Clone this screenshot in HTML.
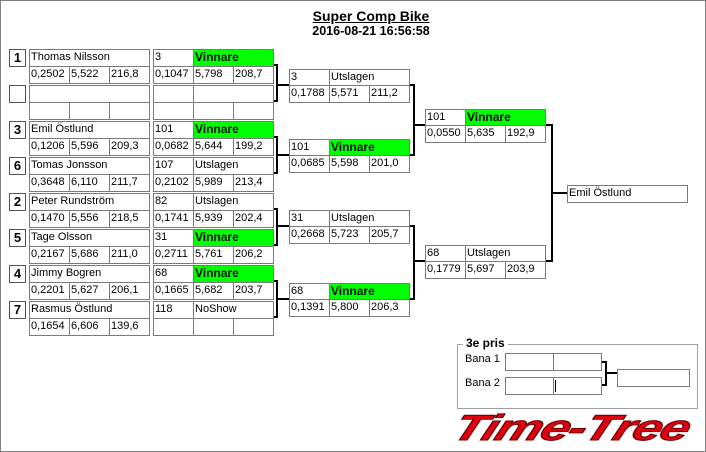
<!DOCTYPE html>
<html><head><meta charset="utf-8"><style>
body{margin:0;width:706px;height:452px;background:#fff;position:relative;overflow:hidden;font-family:"Liberation Sans",Arial,sans-serif;font-size:11px;color:#000}
.f{position:absolute;left:0;top:0;width:704px;height:450px;border:1px solid #808080}
.c{position:absolute;box-sizing:border-box;height:18px;border:1px solid #7a7a7a;background:#fff;padding-left:1px;line-height:15px;white-space:nowrap;overflow:hidden}
.s{font-weight:bold;font-size:13px;text-align:center;padding:0;border-color:#555}
.g{background:#00ff00;font-weight:bold;font-size:12px}
.l{position:absolute;background:#000}
</style></head><body>
<div class="f"></div>
<div style="position:absolute;left:0;width:742px;top:8px;text-align:center;font-weight:bold;font-size:14px;text-decoration:underline">Super Comp Bike</div>
<div style="position:absolute;left:0;width:742px;top:24px;text-align:center;font-weight:bold;font-size:12.5px">2016-08-21 16:56:58</div>

<div class="c s" style="left:9px;top:49px;width:17px">1</div>
<div class="c" style="left:29px;top:49px;width:121px">Thomas Nilsson</div>
<div class="c" style="left:29px;top:66px;width:41px">0,2502</div><div class="c" style="left:69px;top:66px;width:41px">5,522</div><div class="c" style="left:109px;top:66px;width:41px">216,8</div>

<div class="c s" style="left:9px;top:85px;width:17px"></div>
<div class="c" style="left:29px;top:85px;width:121px"></div>
<div class="c" style="left:29px;top:102px;width:41px"></div><div class="c" style="left:69px;top:102px;width:41px"></div><div class="c" style="left:109px;top:102px;width:41px"></div>

<div class="c s" style="left:9px;top:121px;width:17px">3</div>
<div class="c" style="left:29px;top:121px;width:121px">Emil Östlund</div>
<div class="c" style="left:29px;top:138px;width:41px">0,1206</div><div class="c" style="left:69px;top:138px;width:41px">5,596</div><div class="c" style="left:109px;top:138px;width:41px">209,3</div>

<div class="c s" style="left:9px;top:157px;width:17px">6</div>
<div class="c" style="left:29px;top:157px;width:121px">Tomas Jonsson</div>
<div class="c" style="left:29px;top:174px;width:41px">0,3648</div><div class="c" style="left:69px;top:174px;width:41px">6,110</div><div class="c" style="left:109px;top:174px;width:41px">211,7</div>

<div class="c s" style="left:9px;top:193px;width:17px">2</div>
<div class="c" style="left:29px;top:193px;width:121px">Peter Rundström</div>
<div class="c" style="left:29px;top:210px;width:41px">0,1470</div><div class="c" style="left:69px;top:210px;width:41px">5,556</div><div class="c" style="left:109px;top:210px;width:41px">218,5</div>

<div class="c s" style="left:9px;top:229px;width:17px">5</div>
<div class="c" style="left:29px;top:229px;width:121px">Tage Olsson</div>
<div class="c" style="left:29px;top:246px;width:41px">0,2167</div><div class="c" style="left:69px;top:246px;width:41px">5,686</div><div class="c" style="left:109px;top:246px;width:41px">211,0</div>

<div class="c s" style="left:9px;top:265px;width:17px">4</div>
<div class="c" style="left:29px;top:265px;width:121px">Jimmy Bogren</div>
<div class="c" style="left:29px;top:282px;width:41px">0,2201</div><div class="c" style="left:69px;top:282px;width:41px">5,627</div><div class="c" style="left:109px;top:282px;width:41px">206,1</div>

<div class="c s" style="left:9px;top:301px;width:17px">7</div>
<div class="c" style="left:29px;top:301px;width:121px">Rasmus Östlund</div>
<div class="c" style="left:29px;top:318px;width:41px">0,1654</div><div class="c" style="left:69px;top:318px;width:41px">6,606</div><div class="c" style="left:109px;top:318px;width:41px">139,6</div>

<div class="c" style="left:153px;top:49px;width:41px">3</div><div class="c g" style="left:193px;top:49px;width:81px">Vinnare</div>
<div class="c" style="left:153px;top:66px;width:41px">0,1047</div><div class="c" style="left:193px;top:66px;width:41px">5,798</div><div class="c" style="left:233px;top:66px;width:41px">208,7</div>

<div class="c" style="left:153px;top:85px;width:41px"></div><div class="c" style="left:193px;top:85px;width:81px"></div>
<div class="c" style="left:153px;top:102px;width:41px"></div><div class="c" style="left:193px;top:102px;width:41px"></div><div class="c" style="left:233px;top:102px;width:41px"></div>

<div class="c" style="left:153px;top:121px;width:41px">101</div><div class="c g" style="left:193px;top:121px;width:81px">Vinnare</div>
<div class="c" style="left:153px;top:138px;width:41px">0,0682</div><div class="c" style="left:193px;top:138px;width:41px">5,644</div><div class="c" style="left:233px;top:138px;width:41px">199,2</div>

<div class="c" style="left:153px;top:157px;width:41px">107</div><div class="c" style="left:193px;top:157px;width:81px">Utslagen</div>
<div class="c" style="left:153px;top:174px;width:41px">0,2102</div><div class="c" style="left:193px;top:174px;width:41px">5,989</div><div class="c" style="left:233px;top:174px;width:41px">213,4</div>

<div class="c" style="left:153px;top:193px;width:41px">82</div><div class="c" style="left:193px;top:193px;width:81px">Utslagen</div>
<div class="c" style="left:153px;top:210px;width:41px">0,1741</div><div class="c" style="left:193px;top:210px;width:41px">5,939</div><div class="c" style="left:233px;top:210px;width:41px">202,4</div>

<div class="c" style="left:153px;top:229px;width:41px">31</div><div class="c g" style="left:193px;top:229px;width:81px">Vinnare</div>
<div class="c" style="left:153px;top:246px;width:41px">0,2711</div><div class="c" style="left:193px;top:246px;width:41px">5,761</div><div class="c" style="left:233px;top:246px;width:41px">206,2</div>

<div class="c" style="left:153px;top:265px;width:41px">68</div><div class="c g" style="left:193px;top:265px;width:81px">Vinnare</div>
<div class="c" style="left:153px;top:282px;width:41px">0,1665</div><div class="c" style="left:193px;top:282px;width:41px">5,682</div><div class="c" style="left:233px;top:282px;width:41px">203,7</div>

<div class="c" style="left:153px;top:301px;width:41px">118</div><div class="c" style="left:193px;top:301px;width:81px">NoShow</div>
<div class="c" style="left:153px;top:318px;width:41px"></div><div class="c" style="left:193px;top:318px;width:41px"></div><div class="c" style="left:233px;top:318px;width:41px"></div>

<div class="c" style="left:289px;top:69px;width:41px">3</div><div class="c" style="left:329px;top:69px;width:81px">Utslagen</div>
<div class="c" style="left:289px;top:85px;width:41px">0,1788</div><div class="c" style="left:329px;top:85px;width:41px">5,571</div><div class="c" style="left:369px;top:85px;width:41px">211,2</div>

<div class="c" style="left:289px;top:139px;width:41px">101</div><div class="c g" style="left:329px;top:139px;width:81px">Vinnare</div>
<div class="c" style="left:289px;top:155px;width:41px">0,0685</div><div class="c" style="left:329px;top:155px;width:41px">5,598</div><div class="c" style="left:369px;top:155px;width:41px">201,0</div>

<div class="c" style="left:289px;top:210px;width:41px">31</div><div class="c" style="left:329px;top:210px;width:81px">Utslagen</div>
<div class="c" style="left:289px;top:226px;width:41px">0,2668</div><div class="c" style="left:329px;top:226px;width:41px">5,723</div><div class="c" style="left:369px;top:226px;width:41px">205,7</div>

<div class="c" style="left:289px;top:283px;width:41px">68</div><div class="c g" style="left:329px;top:283px;width:81px">Vinnare</div>
<div class="c" style="left:289px;top:299px;width:41px">0,1391</div><div class="c" style="left:329px;top:299px;width:41px">5,800</div><div class="c" style="left:369px;top:299px;width:41px">206,3</div>

<div class="c" style="left:425px;top:109px;width:41px">101</div><div class="c g" style="left:465px;top:109px;width:81px">Vinnare</div>
<div class="c" style="left:425px;top:125px;width:41px">0,0550</div><div class="c" style="left:465px;top:125px;width:41px">5,635</div><div class="c" style="left:505px;top:125px;width:41px">192,9</div>

<div class="c" style="left:425px;top:245px;width:41px">68</div><div class="c" style="left:465px;top:245px;width:81px">Utslagen</div>
<div class="c" style="left:425px;top:261px;width:41px">0,1779</div><div class="c" style="left:465px;top:261px;width:41px">5,697</div><div class="c" style="left:505px;top:261px;width:41px">203,9</div>

<div class="c" style="left:567px;top:185px;width:121px">Emil Östlund</div>

<div class="l" style="left:274px;top:64px;width:4px;height:2px"></div><div class="l" style="left:276px;top:64px;width:2px;height:38px"></div><div class="l" style="left:274px;top:100px;width:4px;height:2px"></div><div class="l" style="left:276px;top:84px;width:13px;height:2px"></div>
<div class="l" style="left:274px;top:136px;width:4px;height:2px"></div><div class="l" style="left:276px;top:136px;width:2px;height:38px"></div><div class="l" style="left:274px;top:172px;width:4px;height:2px"></div><div class="l" style="left:276px;top:154px;width:13px;height:2px"></div>
<div class="l" style="left:274px;top:208px;width:4px;height:2px"></div><div class="l" style="left:276px;top:208px;width:2px;height:38px"></div><div class="l" style="left:274px;top:244px;width:4px;height:2px"></div><div class="l" style="left:276px;top:225px;width:13px;height:2px"></div>
<div class="l" style="left:274px;top:280px;width:4px;height:2px"></div><div class="l" style="left:276px;top:280px;width:2px;height:38px"></div><div class="l" style="left:274px;top:316px;width:4px;height:2px"></div><div class="l" style="left:276px;top:298px;width:13px;height:2px"></div>

<div class="l" style="left:410px;top:84px;width:5px;height:2px"></div><div class="l" style="left:413px;top:84px;width:2px;height:72px"></div><div class="l" style="left:410px;top:154px;width:5px;height:2px"></div><div class="l" style="left:413px;top:124px;width:12px;height:2px"></div>
<div class="l" style="left:410px;top:225px;width:5px;height:2px"></div><div class="l" style="left:413px;top:225px;width:2px;height:75px"></div><div class="l" style="left:410px;top:298px;width:5px;height:2px"></div><div class="l" style="left:413px;top:260px;width:12px;height:2px"></div>

<div class="l" style="left:546px;top:124px;width:7px;height:2px"></div><div class="l" style="left:551px;top:124px;width:2px;height:138px"></div><div class="l" style="left:546px;top:260px;width:7px;height:2px"></div><div class="l" style="left:551px;top:192px;width:16px;height:2px"></div>

<div style="position:absolute;left:457px;top:344px;width:239px;height:63px;border:1px solid #a0a0a0"></div>
<div style="position:absolute;left:463px;top:336px;padding:0 3px;background:#fff;font-weight:bold;font-size:12px">3e pris</div>
<div style="position:absolute;left:465px;top:353px">Bana 1</div>
<div style="position:absolute;left:465px;top:377px">Bana 2</div>
<div class="c" style="left:505px;top:353px;width:49px"></div><div class="c" style="left:553px;top:353px;width:49px"></div>
<div class="c" style="left:505px;top:377px;width:49px"></div><div class="c" style="left:553px;top:377px;width:49px"></div>
<div class="l" style="left:555px;top:380px;width:1px;height:12px"></div>
<div class="l" style="left:602px;top:361px;width:5px;height:2px"></div><div class="l" style="left:605px;top:361px;width:2px;height:25px"></div><div class="l" style="left:602px;top:384px;width:5px;height:2px"></div><div class="l" style="left:605px;top:372px;width:12px;height:2px"></div>
<div class="c" style="left:617px;top:369px;width:73px"></div>

<div style="position:absolute;left:462px;top:409px;font-family:'Liberation Sans',sans-serif;font-weight:bold;font-style:italic;font-size:36px;line-height:38px;color:#e00010;letter-spacing:-1px;white-space:nowrap;transform-origin:0 0;transform:scaleX(1.45) skewX(-15deg);-webkit-text-stroke:1px #600;">Time-Tree</div>
</body></html>
